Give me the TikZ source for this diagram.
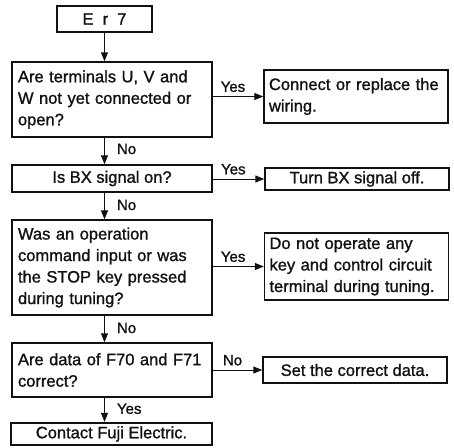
\documentclass[tikz,border=0pt]{standalone}
\usepackage{fontspec}
\setmainfont{Liberation Sans}[FakeBold=1.2]
\usetikzlibrary{arrows.meta,positioning}
\definecolor{ink}{HTML}{111111}

\begin{document}
\begin{tikzpicture}[x=1pt,y=-1pt,
  box/.style={draw=ink,line width=1.4pt,text=ink,inner xsep=6pt,inner ysep=2pt,
    font=\fontsize{16.5}{21.5}\selectfont},
  askbox/.style={box,text width=188pt,align=left},
  askline/.style={box,minimum width=200pt,align=center},
  actbox/.style={box,inner xsep=5pt,text width=174pt,align=left},
  actline/.style={box,minimum width=184pt,align=center},
  endbox/.style={box,minimum width=201pt,line width=2.3pt},
  lbl/.style={font=\fontsize{15}{18}\selectfont,text=ink,inner sep=1pt},
  arrow/.style={-{Triangle[length=9pt,width=7pt]},line width=1pt,draw=ink}
]
\useasboundingbox (0,0) rectangle (454,447);
\node[box,minimum width=95pt,minimum height=26pt] (err) at (104.5,19) {E\hspace{0.55em}r\hspace{0.55em}7};
\node[askbox,minimum height=75pt] (wiring) at (112,99.5) {Are terminals U, V and\\W not yet connected or\\open?};
\node[actbox,minimum height=53pt] (rewire) at (356,96.5) {Connect or replace the\\wiring.};
\node[askline,minimum height=27pt] (bxon) at (112,178.5) {Is BX signal on?};
\node[actline,minimum height=22pt] (bxoff) at (357,179) {Turn BX signal off.};
\node[askbox,minimum height=95pt] (tuning) at (112,267.5) {Was an operation\\command input or was\\the STOP key pressed\\during tuning?};
\node[actbox,minimum height=67pt] (nokey) at (356.5,266.5) {Do not operate any\\key and control circuit\\terminal during tuning.};
\node[askbox,minimum height=54pt] (fdata) at (112,370) {Are data of F70 and F71\\correct?};
\node[actline,minimum height=26pt] (setdata) at (355,370) {Set the correct data.};
\node[endbox,minimum height=22pt] (fuji) at (111.5,434) {Contact Fuji Electric.};
\draw[arrow] (err) -- (err |- wiring.north);
\draw[arrow] (err |- wiring.south) -- node[lbl,right=11pt,yshift=2pt] {No} (err |- bxon.north);
\draw[arrow] (err |- bxon.south) -- node[lbl,right=11pt,yshift=1pt] {No} (err |- tuning.north);
\draw[arrow] (err |- tuning.south) -- node[lbl,right=11pt,yshift=1pt] {No} (err |- fdata.north);
\draw[arrow] (err |- fdata.south) -- node[lbl,right=11pt,yshift=1pt] {Yes} (err |- fuji.north);
\draw[arrow] (wiring.east |- rewire) -- node[lbl,above=3pt,pos=0.4] {Yes} (rewire.west);
\draw[arrow] (bxon.east |- bxoff) -- node[lbl,above=3pt,pos=0.4] {Yes} (bxoff.west);
\draw[arrow] (tuning.east |- nokey) -- node[lbl,above=3pt,pos=0.4] {Yes} (nokey.west);
\draw[arrow] (fdata.east |- setdata) -- node[lbl,above=3pt,pos=0.4] {No} (setdata.west);
\end{tikzpicture}
\end{document}
